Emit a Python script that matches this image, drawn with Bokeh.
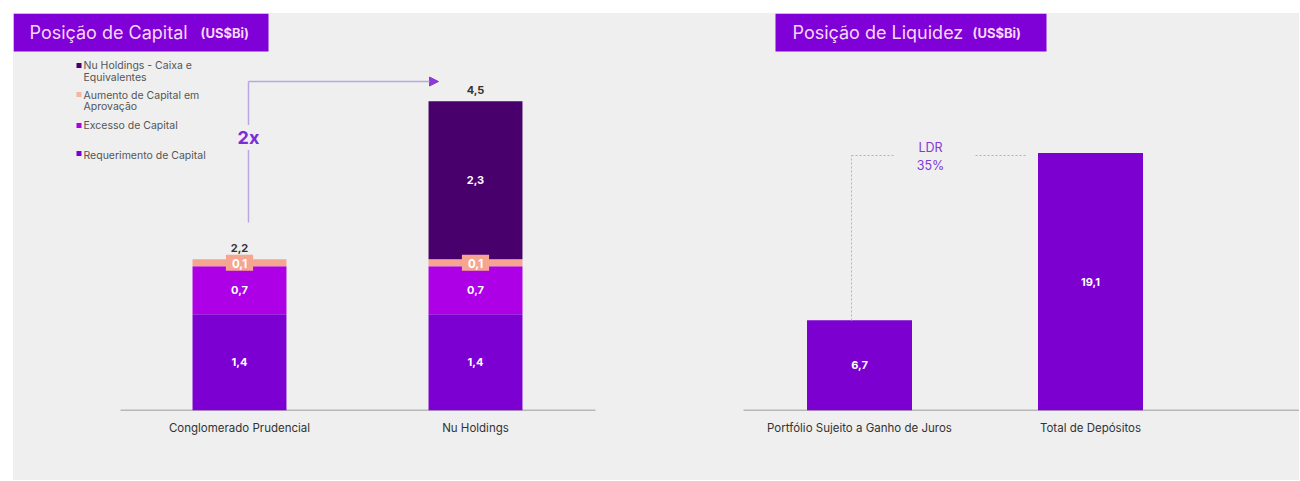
from bokeh.plotting import figure
from bokeh.models import (ColumnDataSource, Range1d, FixedTicker, LabelSet, Label,
                          BoxAnnotation, Arrow, NormalHead, Spacer)
from bokeh.layouts import row, column
from bokeh.embed import file_html
from bokeh.resources import INLINE
from bokeh.core.properties import value

# ---------------- data ----------------
cap_categories = ["Conglomerado Prudencial", "Nu Holdings"]
cap_requerimento = [1.4, 1.4]
cap_excesso = [0.7, 0.7]
cap_aumento = [0.1, 0.1]
cap_caixa = [0.0, 2.3]
cap_legend = [
    ["Nu Holdings - Caixa e", "Equivalentes"],
    [" Aumento de Capital em", "Aprovação"],
    ["Excesso de Capital"],
    ["Requerimento de Capital"],
]
growth_text = "2x"

liq_categories = ["Portfólio Sujeito a Ganho de Juros", "Total de Depósitos"]
liq_values = [6.7, 19.1]
ldr_text = ["LDR", "35%"]

title_left = ["Posição de Capital", "(US$Bi)"]
title_right = ["Posição de Liquidez", "(US$Bi)"]

# ---------------- styles ----------------
FONT = "Inter"
BG = "#efefef"
C_REQ = "#7d00d3"
C_EXC = "#ad00e6"
C_AUM = "#f6a690"
C_CAI = "#47006c"
C_LIQ = "#7c00cf"
C_TITLE = "#8000d8"
C_TITLE_TXT = "#f6d7f8"
FIG_H = 467


def fmt(v):
    return f"{v:.1f}".replace(".", ",")


def base_fig(width, xr, yr, cats):
    p = figure(width=width, height=FIG_H, x_range=xr, y_range=yr,
               output_backend="svg", toolbar_location=None, y_axis_location=None,
               min_border=0, min_border_left=0, min_border_right=0,
               min_border_top=0, min_border_bottom=FIG_H - 397)
    p.background_fill_color = BG
    p.border_fill_color = BG
    p.outline_line_color = None
    p.grid.visible = False
    ax = p.xaxis[0]
    ax.axis_line_color = None
    ax.major_tick_line_color = None
    ax.minor_tick_line_color = None
    ax.major_tick_out = 0
    ax.major_tick_in = 0
    ax.ticker = FixedTicker(ticks=[0, 1])
    ax.major_label_overrides = {0: cats[0], 1: cats[1]}
    ax.major_label_standoff = 10
    ax.major_label_text_font = FONT
    ax.major_label_text_font_size = "11.5px"
    ax.major_label_text_color = "#333333"
    return p


def add_title(p, left, right, texts, x1, x2):
    p.add_layout(BoxAnnotation(left=left, right=right, top=397, bottom=359,
                               left_units="screen", right_units="screen",
                               top_units="screen", bottom_units="screen",
                               fill_color=C_TITLE, fill_alpha=1, line_color=None))
    p.add_layout(Label(x=x1, y=378, x_units="screen", y_units="screen", text=texts[0],
                       text_font=FONT, text_font_size="18px", text_color=C_TITLE_TXT,
                       text_baseline="middle"))
    p.add_layout(Label(x=x2, y=378, x_units="screen", y_units="screen", text=texts[1],
                       text_font=FONT, text_font_size="13px", text_font_style="bold",
                       text_color=C_TITLE_TXT, text_baseline="middle"))


# ---------------- left: capital ----------------
p1 = base_fig(637, Range1d(-0.9576, 1.7415), Range1d(0, 5.779), cap_categories)
p1.segment(x0=[-0.5042], x1=[1.5085], y0=[0], y1=[0], line_color="#808080", line_width=1.5)

src1 = ColumnDataSource(dict(x=[0, 1], req=cap_requerimento, exc=cap_excesso,
                             aum=cap_aumento, cai=cap_caixa))
p1.vbar_stack(["req", "exc", "aum", "cai"], x="x", width=0.398, source=src1,
              fill_color=[C_REQ, C_EXC, C_AUM, C_CAI], line_color=None)

seg_x, seg_y, seg_t = [], [], []
tot_x, tot_y, tot_t = [], [], []
for i in range(2):
    r, e, a, c = cap_requerimento[i], cap_excesso[i], cap_aumento[i], cap_caixa[i]
    seg_x += [i, i]
    seg_y += [r / 2, r + e / 2]
    seg_t += [fmt(r), fmt(e)]
    if c > 0:
        seg_x.append(i)
        seg_y.append(r + e + a + c / 2)
        seg_t.append(fmt(c))
    p1.add_layout(Label(x=i, y=r + e + a / 2, text=fmt(a), text_align="center",
                        text_baseline="middle", text_font=FONT, text_font_size="11.5px",
                        text_font_style="bold", text_color="white",
                        background_fill_color=C_AUM,
                        padding=dict(left=6, right=6, top=4, bottom=3)))
    tot = r + e + a + c
    tot_x.append(i)
    tot_y.append(tot)
    tot_t.append(fmt(tot))

p1.add_layout(LabelSet(x="x", y="y", text="t", source=ColumnDataSource(dict(x=seg_x, y=seg_y, t=seg_t)),
                       text_align="center", text_baseline="middle", text_font=value(FONT),
                       text_font_size="11px", text_font_style="bold", text_color="white"))
p1.add_layout(LabelSet(x="x", y="y", text="t", source=ColumnDataSource(dict(x=tot_x, y=tot_y, t=tot_t)),
                       text_align="center", text_baseline="bottom", y_offset=7, text_font=value(FONT),
                       text_font_size="11px", text_font_style="bold", text_color="#333333"))

# growth arrow
ARROW_C = "#b9a6e2"
p1.add_layout(Arrow(end=None, x_start=235, y_start=188, x_end=235, y_end=329,
                    start_units="screen", end_units="screen", line_color=ARROW_C, line_width=1.5))
p1.add_layout(Arrow(end=NormalHead(size=9, fill_color="#8a3ad6", line_color="#8a3ad6"),
                    x_start=235, y_start=329, x_end=425, y_end=329,
                    start_units="screen", end_units="screen", line_color=ARROW_C, line_width=1.5))
p1.add_layout(Label(x=235, y=273, x_units="screen", y_units="screen", text=growth_text,
                    text_align="center", text_baseline="middle", text_font=FONT,
                    text_font_size="18px", text_font_style="bold", text_color="#7a2ed8",
                    background_fill_color=BG, padding=2))

# legend (manual)
leg_colors = [C_CAI, "#f5b4a4", C_EXC, C_REQ]
leg_sq_y = [65, 94, 125, 153]        # page y of squares
leg_line_y = [[65, 77], [95, 106], [125], [155]]
for col, sy, lines, ly in zip(leg_colors, leg_sq_y, cap_legend, leg_line_y):
    p1.add_layout(BoxAnnotation(left=63, right=68, top=410 - sy + 2.5, bottom=410 - sy - 2.5,
                                left_units="screen", right_units="screen",
                                top_units="screen", bottom_units="screen",
                                fill_color=col, fill_alpha=1, line_color=None))
    for txt, yy in zip(lines, ly):
        p1.add_layout(Label(x=70, y=410 - yy, x_units="screen", y_units="screen", text=txt,
                            text_baseline="middle", text_font=FONT, text_font_size="10.5px",
                            text_color="#555555"))

add_title(p1, 0, 255, title_left, 16, 187)

# ---------------- right: liquidez ----------------
p2 = base_fig(649, Range1d(-0.9048, 1.9048), Range1d(0, 29.45), liq_categories)
p2.segment(x0=[-0.5022], x1=[1.9048], y0=[0], y1=[0], line_color="#808080", line_width=1.5)
src2 = ColumnDataSource(dict(x=[0, 1], v=liq_values, ym=[v / 2 for v in liq_values],
                             t=[fmt(v) for v in liq_values]))
p2.vbar(x="x", top="v", width=0.4545, source=src2, fill_color=C_LIQ, line_color=None)
p2.add_layout(LabelSet(x="x", y="ym", text="t", source=src2, text_align="center",
                       text_baseline="middle", text_font=value(FONT), text_font_size="11px",
                       text_font_style="bold", text_color="white"))

DOT_C = "#b5b5b5"
for xs, ys, xe, ye in [(201, 90, 201, 255), (201, 255, 245, 255), (325, 255, 377, 255)]:
    p2.add_layout(Arrow(end=None, x_start=xs, y_start=ys, x_end=xe, y_end=ye,
                        start_units="screen", end_units="screen", line_color=DOT_C,
                        line_width=1, line_dash="2 2"))
for txt, yy in zip(ldr_text, [263, 245]):
    p2.add_layout(Label(x=280, y=yy, x_units="screen", y_units="screen", text=txt,
                        text_align="center", text_baseline="middle", text_font=FONT,
                        text_font_size="12.5px", text_color="#8338d8"))

add_title(p2, 125, 396, title_right, 142, 322)

charts = row(p1, p2, styles={"background-color": BG})
layout = column(Spacer(height=13, width=1), row(Spacer(width=13, height=1), charts))
open("out.html", "w").write(file_html(layout, INLINE))
